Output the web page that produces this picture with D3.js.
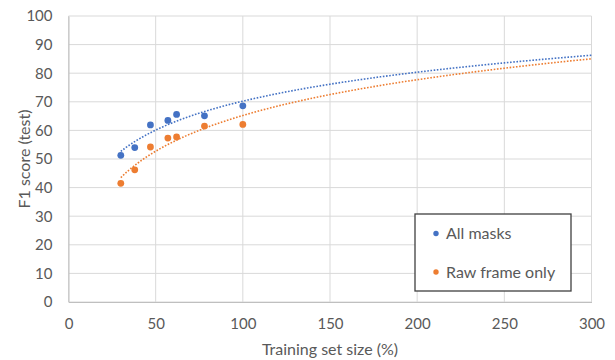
<!DOCTYPE html>
<html>
<head>
<meta charset="utf-8">
<script src="https://cdn.jsdelivr.net/npm/d3@7"></script>
<style>
  body { margin: 0; background: #fff; }
  text { font-family: Lato, "Open Sans", sans-serif; fill: #595959; }
</style>
</head>
<body>
<div id="chart"></div>
<script>
// data
var trainSize = [30, 38, 47, 57, 62, 78, 100];
var allMasks = [51.3, 54.0, 61.9, 63.5, 65.6, 65.1, 68.6];
var rawFrame = [41.5, 46.2, 54.2, 57.3, 57.7, 61.5, 62.1];
var seriesNames = ["All masks", "Raw frame only"];
var colors = ["#4472C4", "#ED7D31"];
var xTicks = [0, 50, 100, 150, 200, 250, 300];
var yTicks = [0, 10, 20, 30, 40, 50, 60, 70, 80, 90, 100];

var w = 615, h = 360;
var margin = {top: 16, right: 23.5, bottom: 58, left: 68.5};
var width = w - margin.left - margin.right,
    height = h - margin.top - margin.bottom;

var xScale = d3.scaleLinear().domain([0, 300]).range([0, width]);
var yScale = d3.scaleLinear().domain([0, 100]).range([height, 0]);

var svg = d3.select("#chart").append("svg")
    .attr("width", w)
    .attr("height", h);

var g = svg.append("g").attr("transform", "translate(" + margin.left + "," + margin.top + ")");

// gridlines
g.append("g")
    .selectAll("line")
    .data(yTicks)
    .enter().append("line")
      .attr("x1", 0).attr("x2", width)
      .attr("y1", function(d) { return yScale(d); })
      .attr("y2", function(d) { return yScale(d); })
      .attr("stroke", "#d9d9d9")
      .attr("stroke-width", 1);

g.append("g")
    .selectAll("line")
    .data(xTicks)
    .enter().append("line")
      .attr("y1", 0).attr("y2", height)
      .attr("x1", function(d) { return xScale(d); })
      .attr("x2", function(d) { return xScale(d); })
      .attr("stroke", "#d9d9d9")
      .attr("stroke-width", 1);

// axes
var xAxis = g.append("g")
    .attr("transform", "translate(0," + height + ")")
    .call(d3.axisBottom(xScale).tickValues(xTicks).tickSize(0).tickPadding(16));
var yAxis = g.append("g")
    .call(d3.axisLeft(yScale).tickValues(yTicks).tickSize(0).tickPadding(16));

[xAxis, yAxis].forEach(function(a) {
  a.select(".domain").attr("stroke", "#bfbfbf");
  a.selectAll("text").attr("font-size", 15).attr("fill", "#595959")
    .attr("font-family", "Lato, 'Open Sans', sans-serif");
});

svg.append("text")
    .attr("x", margin.left + width / 2)
    .attr("y", 355)
    .attr("text-anchor", "middle")
    .attr("font-size", 16)
    .text("Training set size (%)");

svg.append("text")
    .attr("transform", "translate(30," + 159 + ") rotate(-90)")
    .attr("text-anchor", "middle")
    .attr("font-size", 16)
    .text("F1 score (test)");

// logarithmic trendlines (least squares on ln x), forecast to 300
function logFit(xs, ys) {
  var lx = xs.map(Math.log);
  var mx = d3.mean(lx), my = d3.mean(ys);
  var sxy = d3.sum(lx, function(v, i) { return (v - mx) * (ys[i] - my); });
  var sxx = d3.sum(lx, function(v) { return (v - mx) * (v - mx); });
  var a = sxy / sxx;
  return function(x) { return my + a * (Math.log(x) - mx); };
}

var series = [allMasks, rawFrame];

series.forEach(function(vals, s) {
  var f = logFit(trainSize, vals);
  var xs = d3.range(d3.min(trainSize), 300.5, 1);
  var line = d3.line()
      .x(function(d) { return xScale(d); })
      .y(function(d) { return yScale(f(d)); });
  g.append("path")
      .datum(xs)
      .attr("fill", "none")
      .attr("stroke", colors[s])
      .attr("stroke-width", 1.6)
      .attr("stroke-dasharray", "1.6,1.6")
      .attr("d", line);
});

series.forEach(function(vals, s) {
  g.append("g")
    .selectAll("circle")
    .data(vals)
    .enter().append("circle")
      .attr("cx", function(d, i) { return xScale(trainSize[i]); })
      .attr("cy", function(d) { return yScale(d); })
      .attr("r", 3.4)
      .attr("fill", colors[s]);
});

// legend
var lg = svg.append("g").attr("transform", "translate(415,214)");
lg.append("rect")
    .attr("width", 156)
    .attr("height", 77)
    .attr("fill", "#fff")
    .attr("stroke", "#404040")
    .attr("stroke-width", 1.3);

seriesNames.forEach(function(name, i) {
  var yy = 19.5 + i * 38.5;
  lg.append("circle")
      .attr("cx", 21).attr("cy", yy).attr("r", 2.7)
      .attr("fill", colors[i]);
  lg.append("text")
      .attr("x", 31).attr("y", yy)
      .attr("dy", "0.35em")
      .attr("font-size", 16)
      .text(name);
});
</script>
</body>
</html>
